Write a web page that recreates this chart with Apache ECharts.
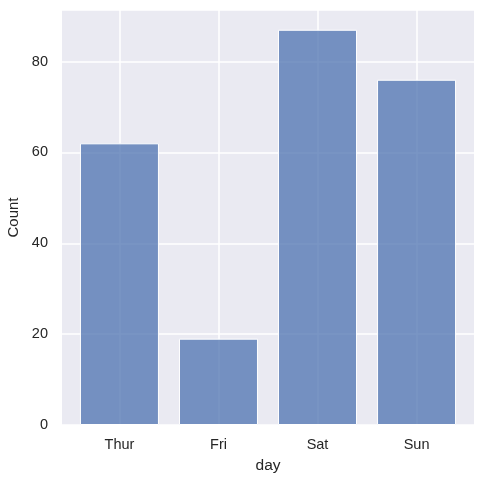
<!DOCTYPE html>
<html>
<head>
<meta charset="utf-8">
<script src="https://cdn.jsdelivr.net/npm/echarts@6/dist/echarts.min.js"></script>
<style>
html, body { margin: 0; padding: 0; background: #fff; }
#chart { width: 484px; height: 484px; }
</style>
</head>
<body>
<div id="chart"></div>
<script>
var days = ['Thur', 'Fri', 'Sat', 'Sun'];
var counts = [62, 19, 87, 76];
var yTicks = [0, 20, 40, 60, 80];

var chartDom = document.getElementById('chart');
var myChart = echarts.init(chartDom, null, { renderer: 'canvas' });

var textColor = '#262626';
var fontFamily = '"Liberation Sans", Arial, sans-serif';

var barData = counts.map(function (c, i) { return [i, c]; });
var dayIndex = days.map(function (d, i) { return i; });

var option = {
  animation: false,
  backgroundColor: '#ffffff',
  grid: {
    left: 62, right: 10, top: 10, bottom: 59,
    outerBoundsMode: 'none',
    containLabel: false,
    show: true,
    backgroundColor: '#eaeaf2',
    borderWidth: 0
  },
  xAxis: {
    type: 'value',
    min: -0.58,
    max: 3.58,
    name: 'day',
    nameLocation: 'middle',
    nameGap: 33,
    nameTextStyle: { color: textColor, fontSize: 15.5, fontFamily: fontFamily },
    axisLine: { show: false },
    axisTick: { show: false, customValues: dayIndex },
    axisLabel: {
      customValues: dayIndex,
      color: textColor, fontSize: 14.5, fontFamily: fontFamily, margin: 12,
      formatter: function (v) { return days[Math.round(v)]; }
    },
    splitLine: { show: true, lineStyle: { color: '#ffffff', width: 1.5 } }
  },
  yAxis: {
    type: 'value',
    min: 0,
    max: 91.35,
    interval: 20,
    name: 'Count',
    nameLocation: 'middle',
    nameGap: 30,
    nameTextStyle: { color: textColor, fontSize: 15, fontFamily: fontFamily },
    axisLine: { show: false },
    axisTick: { show: false },
    axisLabel: {
      color: textColor, fontSize: 14.5, fontFamily: fontFamily, margin: 14,
      showMaxLabel: false,
      formatter: function (v) { return yTicks.indexOf(v) >= 0 ? String(v) : ''; }
    },
    splitLine: { show: true, lineStyle: { color: '#ffffff', width: 1.5 } }
  },
  series: [{
    type: 'bar',
    data: barData,
    barWidth: 79,
    itemStyle: {
      color: 'rgba(76,114,176,0.75)',
      borderColor: '#ffffff',
      borderWidth: 1
    }
  }]
};

myChart.setOption(option);
</script>
</body>
</html>
